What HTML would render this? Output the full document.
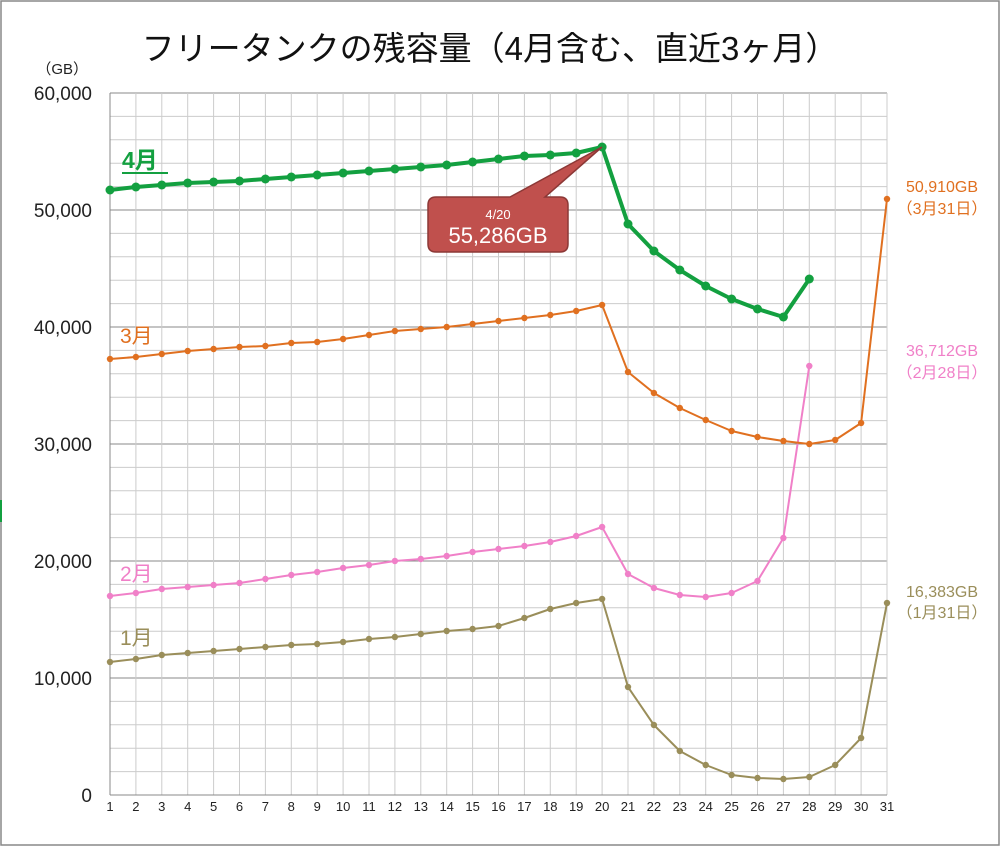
<!DOCTYPE html>
<html><head><meta charset="utf-8"><style>
html,body{margin:0;padding:0;background:#fff}
svg{display:block;font-family:"Liberation Sans","Noto Sans CJK JP",sans-serif}
</style></head><body>
<svg id="s" width="1001" height="847" xmlns="http://www.w3.org/2000/svg">
<rect x="1" y="1" width="998" height="844" fill="#fff" stroke="#888" stroke-width="1.5"/>
<rect x="0" y="500" width="2" height="22" fill="#13a040"/>
<text x="490" y="60" font-size="33" text-anchor="middle" fill="#111">フリータンクの残容量（4月含む、直近3ヶ月）</text>
<text x="88" y="74" font-size="15" text-anchor="end" fill="#222">（GB）</text>
<g id="grid"></g>
<g id="series"></g>
<path d="M438,197 H510 L602,147 L545,197 H560 Q568,197 568,205 V244 Q568,252 560,252 H436 Q428,252 428,244 V205 Q428,197 436,197 Z" fill="#c0504d" stroke="#8c3836" stroke-width="1.5"/>
<text x="498" y="219" font-size="13" fill="#fff" text-anchor="middle">4/20</text>
<text x="498" y="243" font-size="22" fill="#fff" text-anchor="middle">55,286GB</text>
<text x="122" y="168" font-size="23" font-weight="bold" fill="#13a040">4月</text>
<rect x="122" y="172" width="46" height="2" fill="#13a040"/>
<text x="120" y="343" font-size="21" fill="#e07020">3月</text>
<text x="120" y="581" font-size="21" fill="#f080c8">2月</text>
<text x="120" y="645" font-size="21" fill="#9a8e5a">1月</text>
<text x="942" y="192" font-size="16" fill="#e07020" text-anchor="middle">50,910GB</text>
<text x="942" y="214" font-size="16" fill="#e07020" text-anchor="middle">（3月31日）</text>
<text x="942" y="356" font-size="16" fill="#f080c8" text-anchor="middle">36,712GB</text>
<text x="942" y="378" font-size="16" fill="#f080c8" text-anchor="middle">（2月28日）</text>
<text x="942" y="597" font-size="16" fill="#9a8e5a" text-anchor="middle">16,383GB</text>
<text x="942" y="618" font-size="16" fill="#9a8e5a" text-anchor="middle">（1月31日）</text>
</svg>
<script>
var NS="http://www.w3.org/2000/svg";
function X(d){return 110+(d-1)*25.9;}
function el(t,a,p,txt){var e=document.createElementNS(NS,t);for(var k in a)e.setAttribute(k,a[k]);if(txt!==undefined)e.textContent=txt;p.appendChild(e);return e;}
var g=document.getElementById('grid');
for(var i=0;i<=30;i++){var y=795-i*23.4;el('line',{x1:110,x2:887,y1:y,y2:y,stroke:i%5==0?'#888':'#ccc','stroke-width':1},g);}
for(var d=1;d<=31;d++){el('line',{x1:X(d),x2:X(d),y1:93,y2:795,stroke:'#ccc','stroke-width':1},g);
el('text',{x:X(d),y:811,'font-size':13,'text-anchor':'middle',fill:'#222'},g,''+d);}
el('line',{x1:110,x2:110,y1:93,y2:795,stroke:'#888'},g);
el('line',{x1:110,x2:887,y1:795,y2:795,stroke:'#888'},g);
var labs=['0','10,000','20,000','30,000','40,000','50,000','60,000'];
for(var i=0;i<7;i++)el('text',{x:92,y:795-i*117+7,'font-size':19,'text-anchor':'end',fill:'#222'},g,labs[i]);
var S=document.getElementById('series');
var data=[
['#9a8e5a',2,3.2,[662,659,655,653,651,649,647,645,644,642,639,637,634,631,629,626,618,609,603,599,687,725,751,765,775,778,779,777,765,738,603]],
['#f080c8',2,3.2,[596,593,589,587,585,583,579,575,572,568,565,561,559,556,552,549,546,542,536,527,574,588,595,597,593,581,538,366]],
['#e07020',2,3.2,[359,357,354,351,349,347,346,343,342,339,335,331,329,327,324,321,318,315,311,305,372,393,408,420,431,437,441,444,440,423,199]],
['#13a040',4,4.5,[190,187,185,183,182,181,179,177,175,173,171,169,167,165,162,159,156,155,153,147,224,251,270,286,299,309,317,279]]];
data.forEach(function(s){var pts=s[3].map(function(y,i){return X(i+1)+','+y;}).join(' ');
el('polyline',{points:pts,fill:'none',stroke:s[0],'stroke-width':s[1],'stroke-linejoin':'round'},S);
s[3].forEach(function(y,i){el('circle',{cx:X(i+1),cy:y,r:s[2],fill:s[0]},S);});});
</script>
</body></html>
